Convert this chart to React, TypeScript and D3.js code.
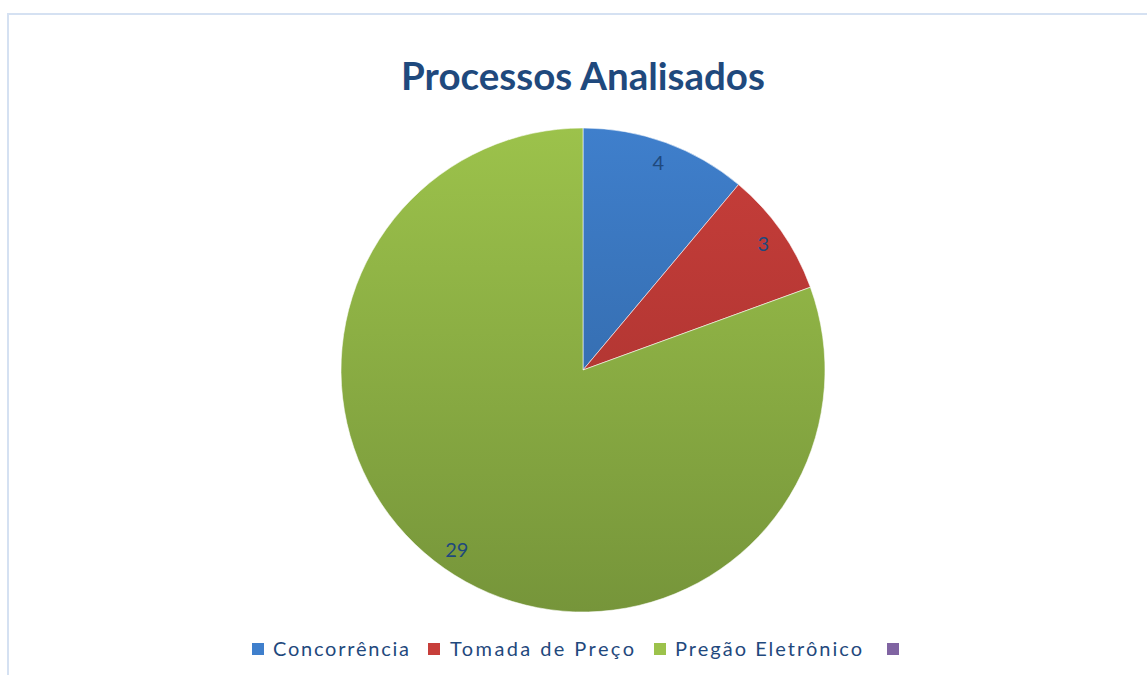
import React, { useEffect, useRef } from 'react';
import * as d3 from 'd3';

const categories = ['Concorrência', 'Tomada de Preço', 'Pregão Eletrônico', ''];
const values = [4, 3, 29, 0];
const topColors = ['#3f7fcc', '#c73e3a', '#9cc24b', '#8064a2'];
const bottomColors = ['#2d5f99', '#a12f2c', '#76953a', '#5f4a7b'];

const W = 1147;
const H = 675;

const App = () => {
  const ref = useRef<SVGSVGElement>(null);

  useEffect(() => {
    const svg = d3.select(ref.current);
    svg.selectAll('*').remove();

    const cx = 583;
    const cy = 370;
    const r = 242;
    const textColor = '#1f497d';
    const font = 'Lato, "Open Sans", sans-serif';

    // chart border
    svg.append('rect')
      .attr('x', 8)
      .attr('y', 14)
      .attr('width', W + 20)
      .attr('height', H + 20)
      .attr('fill', 'white')
      .attr('stroke', '#d5e1f2')
      .attr('stroke-width', 2);

    // title
    svg.append('text')
      .attr('x', cx)
      .attr('y', 90)
      .attr('text-anchor', 'middle')
      .attr('fill', textColor)
      .style('font-family', font)
      .style('font-weight', 'bold')
      .style('font-size', '38.5px')
      .text('Processos Analisados');

    // gradients spanning the pie's bounding box (local coords of the pie group)
    const defs = svg.append('defs');
    topColors.forEach((c, i) => {
      const gr = defs.append('linearGradient')
        .attr('id', `grad${i}`)
        .attr('gradientUnits', 'userSpaceOnUse')
        .attr('x1', 0).attr('y1', -r)
        .attr('x2', 0).attr('y2', r);
      gr.append('stop').attr('offset', '0%').attr('stop-color', c);
      gr.append('stop').attr('offset', '100%').attr('stop-color', bottomColors[i]);
    });

    const pie = d3.pie<number>().sort(null).value(d => d);
    const arcs = pie(values);
    const arc = d3.arc<d3.PieArcDatum<number>>().innerRadius(0).outerRadius(r);
    const labelArc = d3.arc<d3.PieArcDatum<number>>().innerRadius(220).outerRadius(220);

    const g = svg.append('g').attr('transform', `translate(${cx},${cy})`);

    g.selectAll('path')
      .data(arcs.filter(d => d.value > 0))
      .enter()
      .append('path')
        .attr('d', arc)
        .attr('fill', d => `url(#grad${d.index})`)
        .attr('stroke', 'rgba(255,255,255,0.7)')
        .attr('stroke-width', 0.8);

    g.selectAll('.label')
      .data(arcs.filter(d => d.value > 0))
      .enter()
      .append('text')
        .attr('class', 'label')
        .attr('transform', d => `translate(${labelArc.centroid(d)})`)
        .attr('text-anchor', 'middle')
        .attr('dy', '0.35em')
        .attr('fill', textColor)
        .style('font-family', font)
        .style('font-size', '20px')
        .text(d => d.value);

    // legend
    const legendItems = [
      { sq: 252, tx: 273, w: 136 },
      { sq: 428, tx: 450, w: 184 },
      { sq: 654, tx: 675, w: 187 },
      { sq: 887, tx: 908, w: 0 },
    ];
    const lg = svg.append('g');
    categories.forEach((name, i) => {
      const it = legendItems[i];
      lg.append('rect')
        .attr('x', it.sq)
        .attr('y', 643)
        .attr('width', 12)
        .attr('height', 12)
        .attr('fill', topColors[i]);
      if (name) {
        lg.append('text')
          .attr('x', it.tx)
          .attr('y', 656)
          .attr('fill', textColor)
          .attr('textLength', it.w)
          .attr('lengthAdjust', 'spacing')
          .style('font-family', font)
          .style('font-size', '20px')
          .text(name);
      }
    });
  }, []);

  return (
    <svg
      ref={ref}
      width={W}
      height={H}
      style={{ position: 'absolute', left: 0, top: 0 }}
    />
  );
};

export default App;
